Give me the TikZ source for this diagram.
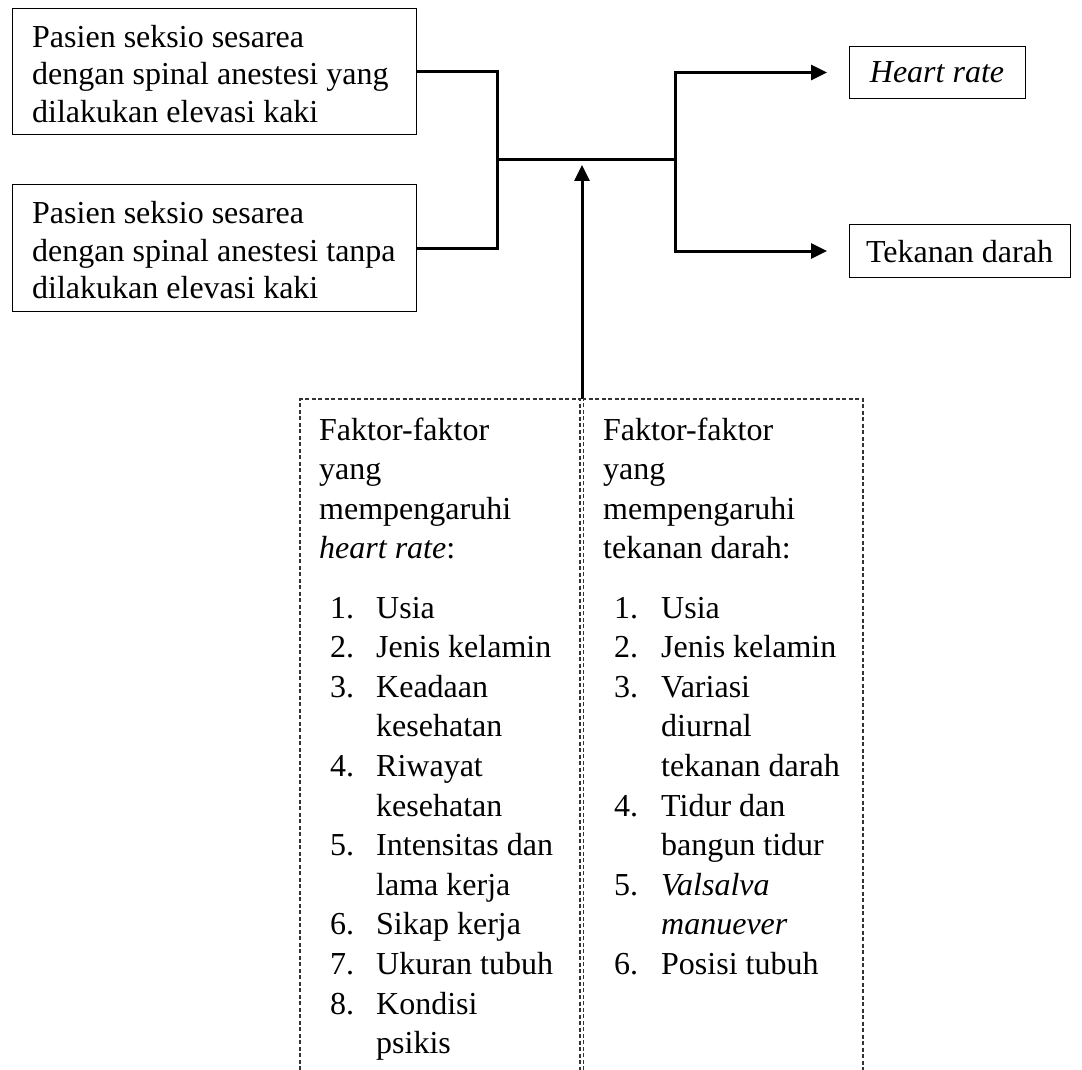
\documentclass[tikz,border=0pt]{standalone}
\usepackage{fontspec}
\setmainfont{Liberation Serif}
\usetikzlibrary{arrows.meta}
\tikzset{
  txt/.style={font=\fontsize{32}{37.5}\selectfont, anchor=base west, inner sep=0pt},
  ctxt/.style={font=\fontsize{32}{37.5}\selectfont, anchor=base, inner sep=0pt},
  boxshape/.style={draw, line width=1pt, anchor=north west, inner sep=0pt},
  conn/.style={line width=3pt},
  arr/.style={line width=3pt, -{Triangle[length=16pt,width=15pt]}},
  dbox/.style={draw=black!80, line width=1.3pt, dash pattern=on 4pt off 2.5pt},
}
\begin{document}
\begin{tikzpicture}[x=1pt,y=-1pt]
\useasboundingbox (0,0) rectangle (1082,1070);

% input boxes
\node[boxshape, minimum width=404pt, minimum height=126pt] (b1) at (12,8) {};
\node[boxshape, minimum width=404pt, minimum height=127pt] (b2) at (12,184) {};
\node[txt] (b1l1) at (32,47.5) {Pasien seksio sesarea};
\node[txt] (b1l2) at (32,85) {dengan spinal anestesi yang};
\node[txt] (b1l3) at (32,122.5) {dilakukan elevasi kaki};
\node[txt] (b2l1) at (32,223.5) {Pasien seksio sesarea};
\node[txt] (b2l2) at (32,261) {dengan spinal anestesi tanpa};
\node[txt] (b2l3) at (32,298.5) {dilakukan elevasi kaki};

% output boxes
\node[boxshape, minimum width=176pt, minimum height=52pt] (hr) at (849,46) {};
\node[boxshape, minimum width=221pt, minimum height=53pt] (td) at (849,224) {};
\node[ctxt] (hrt) at (937,83) {\textit{Heart rate}};
\node[ctxt] (tdt) at (959.5,262) {Tekanan darah};

% connectors
\coordinate (jl) at (497,160);
\coordinate (jr) at (675,160);
\draw[conn] (b1.east) -| (jl) |- (b2.east);
\draw[conn] (jl) -- (jr);
\draw[arr, shorten >=22pt] (jr) |- (hr.west);
\draw[arr, shorten >=22pt] (jr) |- (td.west);
\coordinate (dtop) at (582,399);
\coordinate (tipc) at (582,165);
\draw[arr] (dtop) -- (tipc);

% dashed columns
\draw[dbox] (300,1070) -- (300,399) -- (580,399) -- (580,1070);
\draw[dbox] (583.5,1070) -- (583.5,399) -- (863,399) -- (863,1070);

% left column
\foreach \t [count=\i from 0] in {Faktor-faktor, yang, mempengaruhi, {\textit{heart rate}:}}
  \node[txt] (LH\i) at (319,{440+\i*39.6}) {\t};
\foreach \n/\k in {1/0,2/1,3/2,4/4,5/6,6/8,7/9,8/10}
  \node[txt] (LN\n) at (330,{618+\k*39.6}) {\n.};
\foreach \t [count=\i from 0] in {Usia, Jenis kelamin, Keadaan, kesehatan, Riwayat, kesehatan, Intensitas dan, lama kerja, Sikap kerja, Ukuran tubuh, Kondisi, psikis}
  \node[txt] (LT\i) at (376,{618+\i*39.6}) {\t};

% right column
\foreach \t [count=\i from 0] in {Faktor-faktor, yang, mempengaruhi, {tekanan darah:}}
  \node[txt] (RH\i) at (603,{440+\i*39.6}) {\t};
\foreach \n/\k in {1/0,2/1,3/2,4/5,5/7,6/9}
  \node[txt] (RN\n) at (614,{618+\k*39.6}) {\n.};
\foreach \t [count=\i from 0] in {Usia, Jenis kelamin, Variasi, diurnal, tekanan darah, Tidur dan, bangun tidur, \textit{Valsalva}, \textit{manuever}, Posisi tubuh}
  \node[txt] (RT\i) at (661,{618+\i*39.6}) {\t};
\end{tikzpicture}
\end{document}
